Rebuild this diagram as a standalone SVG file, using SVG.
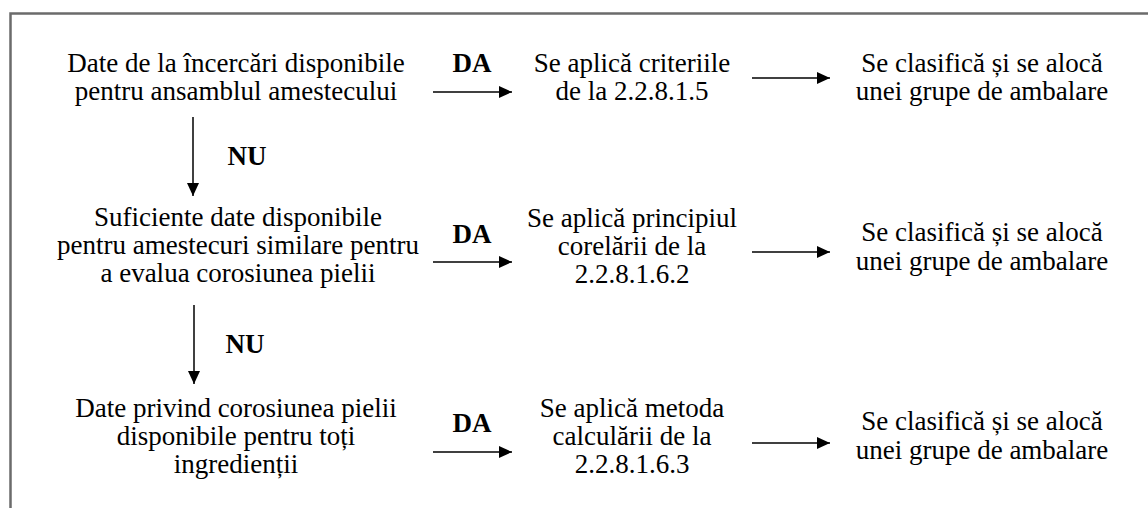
<svg xmlns="http://www.w3.org/2000/svg" width="1148" height="508" viewBox="0 0 1148 508">
<style>
.t{font-family:"Liberation Serif","Times New Roman",serif;font-size:27px;fill:#000;text-anchor:middle}
.b{font-family:"Liberation Serif","Times New Roman",serif;font-size:27px;font-weight:bold;fill:#000;text-anchor:middle}
.c{stroke:#000;stroke-width:1.5;fill:none;marker-end:url(#ah)}
.frame{stroke:#6b6b6b;stroke-width:2.5;fill:none}
</style>
<defs>
<marker id="ah" viewBox="0 0 13 12" refX="13" refY="6" markerWidth="13" markerHeight="12" markerUnits="userSpaceOnUse" orient="auto">
<path d="M0,0 L13,6 L0,12 Z" fill="#000"/>
</marker>
</defs>
<rect width="1148" height="508" fill="#fff"/>
<path class="frame" d="M10.5,508 V13.5 H1148"/>
<g id="n1"><text class="t" x="236" y="72">Date de la încercări disponibile</text><text class="t" x="236" y="100">pentru ansamblul amestecului</text></g>
<g id="n2"><text class="t" x="632" y="72">Se aplică criteriile</text><text class="t" x="632" y="100">de la 2.2.8.1.5</text></g>
<g id="n3"><text class="t" x="982" y="72">Se clasifică și se alocă</text><text class="t" x="982" y="100">unei grupe de ambalare</text></g>
<g id="n4"><text class="t" x="238" y="226">Suficiente date disponibile</text><text class="t" x="238" y="254">pentru amestecuri similare pentru</text><text class="t" x="238" y="282">a evalua corosiunea pielii</text></g>
<g id="n5"><text class="t" x="632" y="227">Se aplică principiul</text><text class="t" x="632" y="255">corelării de la</text><text class="t" x="632" y="283">2.2.8.1.6.2</text></g>
<g id="n6"><text class="t" x="982" y="241">Se clasifică și se alocă</text><text class="t" x="982" y="270">unei grupe de ambalare</text></g>
<g id="n7"><text class="t" x="236" y="417">Date privind corosiunea pielii</text><text class="t" x="236" y="445">disponibile pentru toți</text><text class="t" x="236" y="473">ingredienții</text></g>
<g id="n8"><text class="t" x="632" y="417">Se aplică metoda</text><text class="t" x="632" y="445">calculării de la</text><text class="t" x="632" y="473">2.2.8.1.6.3</text></g>
<g id="n9"><text class="t" x="982" y="430">Se clasifică și se alocă</text><text class="t" x="982" y="459">unei grupe de ambalare</text></g>
<g id="connectors">
<line class="c" x1="433" y1="92" x2="512" y2="92"/>
<line class="c" x1="752" y1="78" x2="830" y2="78"/>
<line class="c" x1="433" y1="262" x2="512" y2="262"/>
<line class="c" x1="752" y1="252" x2="830" y2="252"/>
<line class="c" x1="433" y1="452" x2="512" y2="452"/>
<line class="c" x1="752" y1="443" x2="830" y2="443"/>
<line class="c" x1="193" y1="117" x2="193" y2="196"/>
<line class="c" x1="194" y1="305" x2="194" y2="384"/>
<text class="b" x="472" y="72">DA</text>
<text class="b" x="472" y="243">DA</text>
<text class="b" x="472" y="432">DA</text>
<text class="b" x="247" y="165">NU</text>
<text class="b" x="245" y="353">NU</text>
</g>
</svg>
